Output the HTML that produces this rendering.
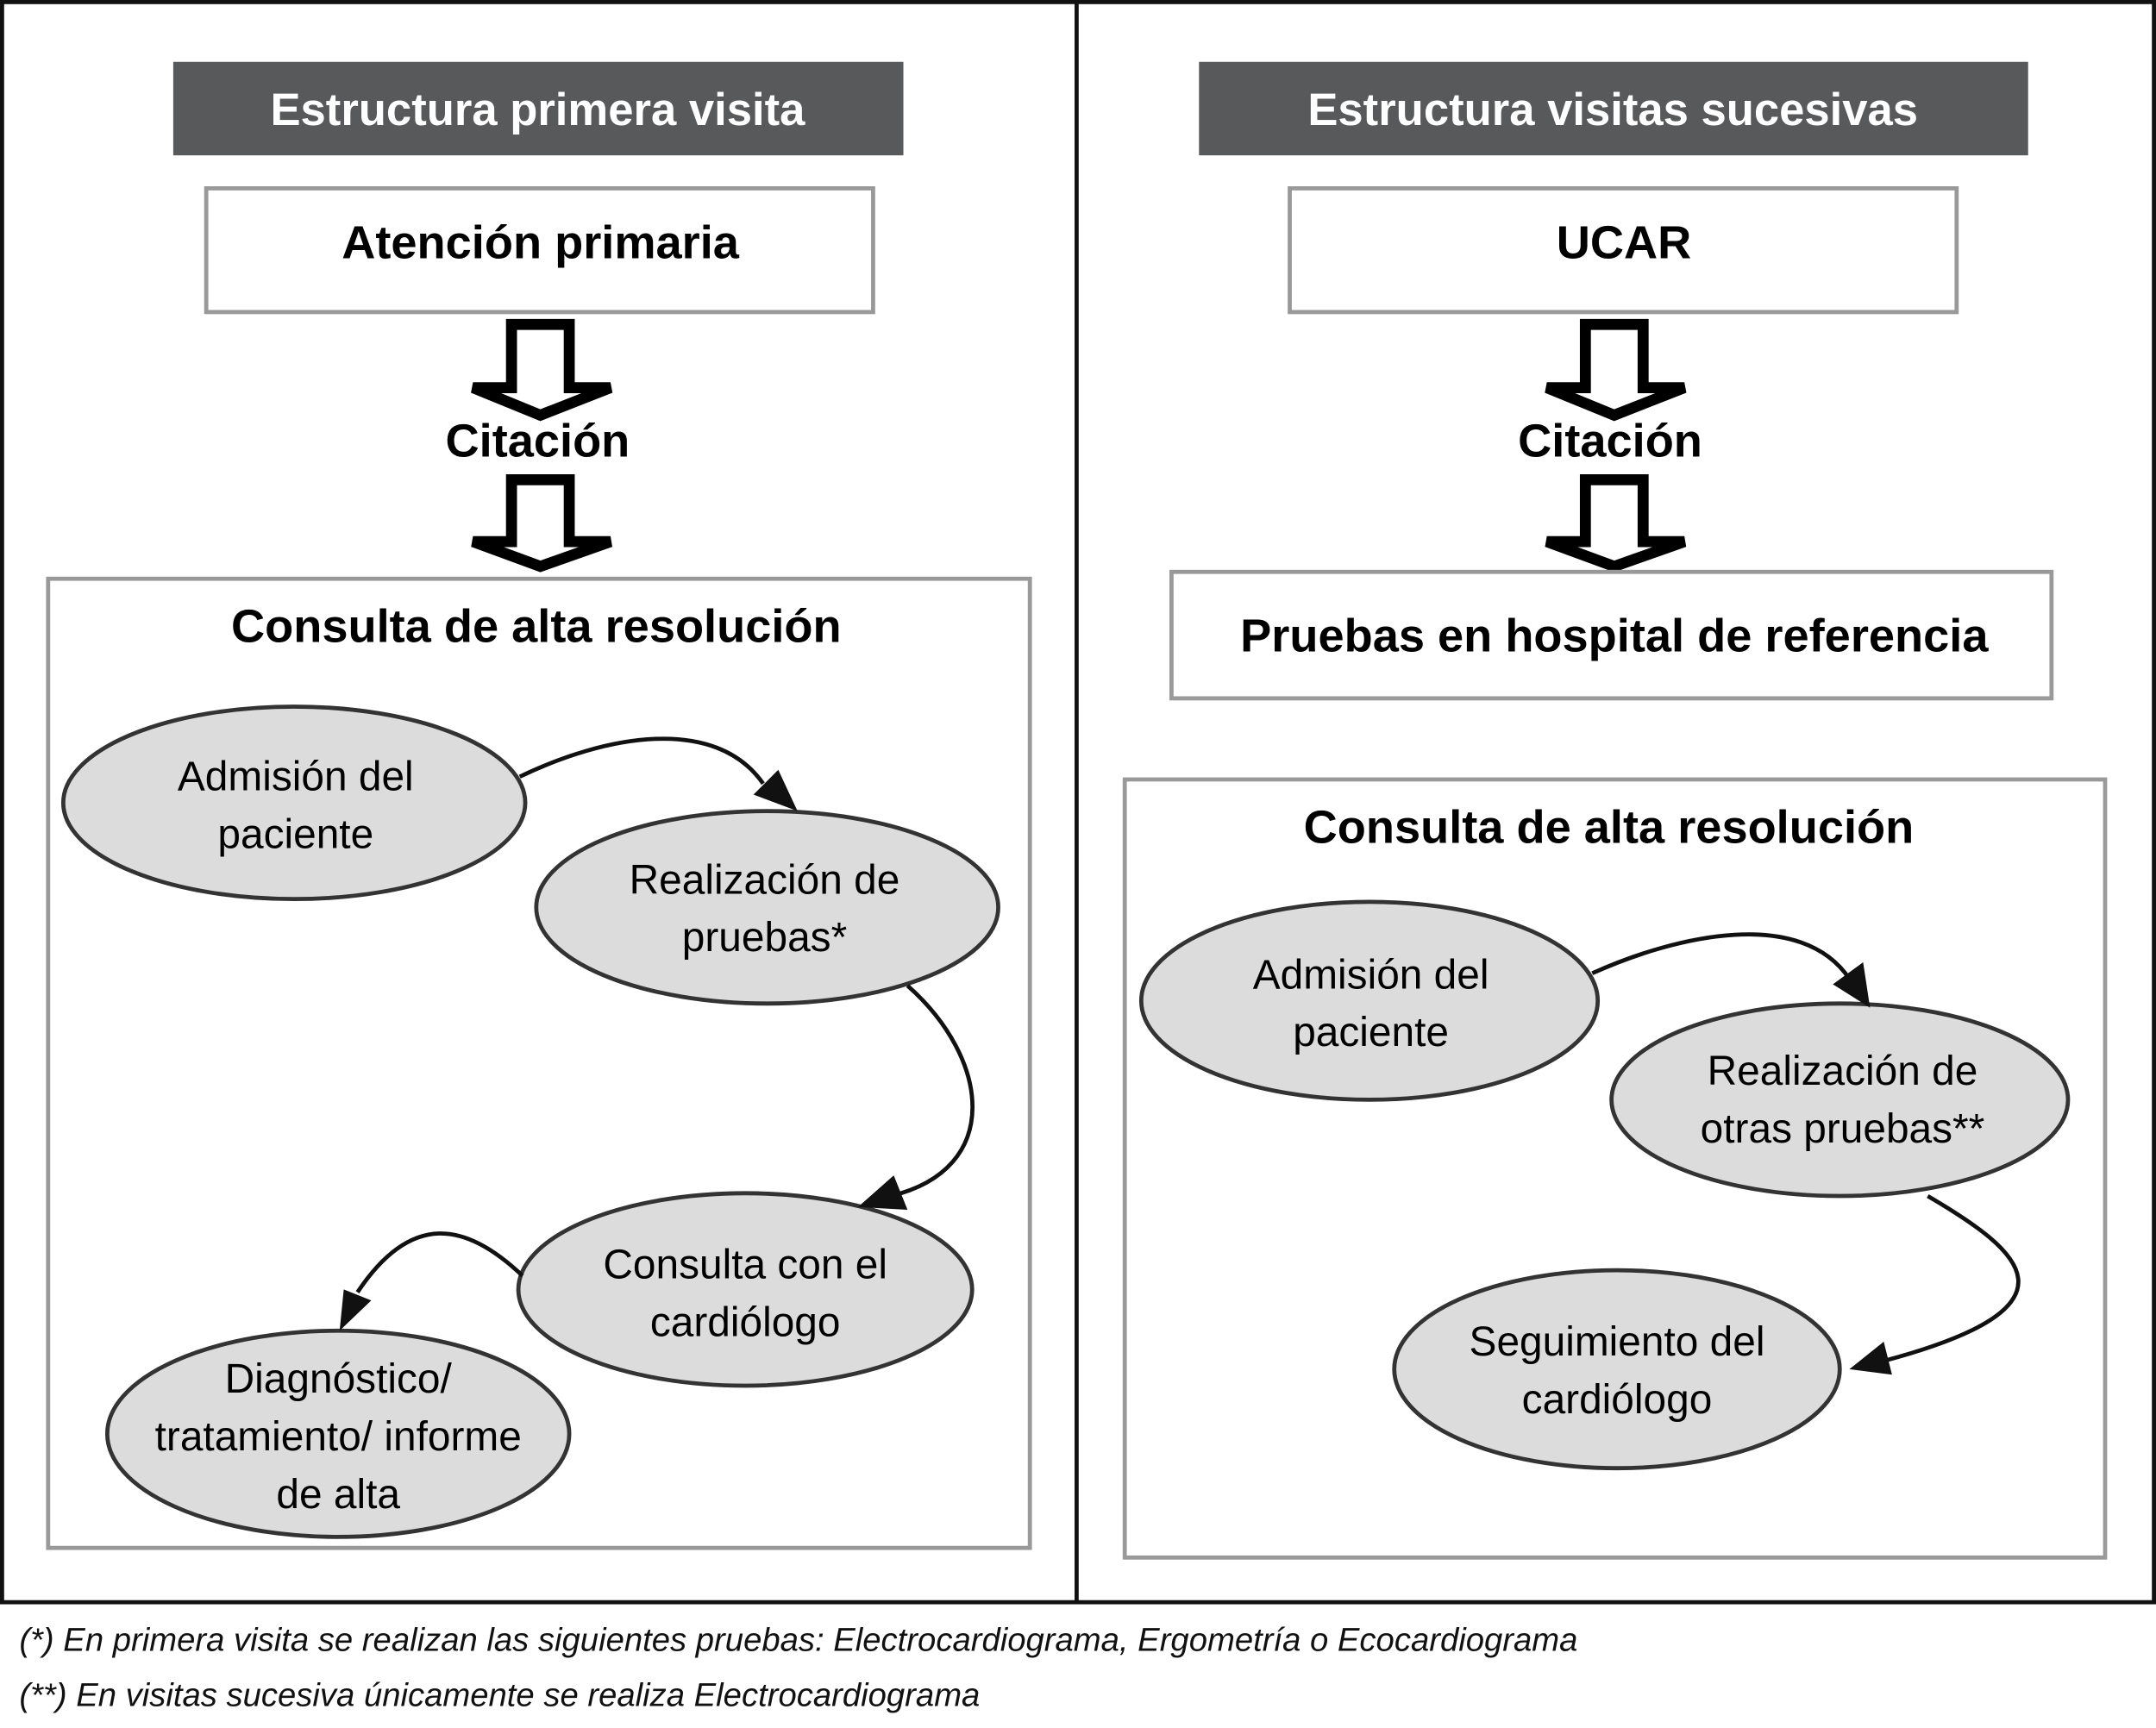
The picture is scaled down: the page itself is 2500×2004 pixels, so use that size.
<!DOCTYPE html>
<html><head><meta charset="utf-8"><style>
html,body{margin:0;padding:0;background:#fff}
svg{display:block}
text{font-family:"Liberation Sans",Arial,sans-serif}
</style></head><body>
<svg width="2500" height="2004" viewBox="0 0 1568 1257" preserveAspectRatio="none" xmlns="http://www.w3.org/2000/svg">
<defs>
<marker id="ah" viewBox="0 0 10 10" refX="9" refY="5" markerWidth="9" markerHeight="9" markerUnits="userSpaceOnUse" orient="auto">
</marker>
</defs>
<rect x="1.5" y="1.5" width="1565" height="1164" fill="none" stroke="#111" stroke-width="3"/>
<line x1="783" y1="0" x2="783" y2="1166" stroke="#111" stroke-width="3"/>

<!-- headers -->
<rect x="126" y="45" width="531" height="68" fill="#58595b"/>
<text x="391" y="91" font-size="33" font-weight="bold" fill="#fff" text-anchor="middle">Estructura primera visita</text>
<rect x="872" y="45" width="603" height="68" fill="#58595b"/>
<text x="1173" y="91" font-size="33" font-weight="bold" fill="#fff" text-anchor="middle">Estructura visitas sucesivas</text>

<rect x="150" y="137" width="485" height="90" fill="#fff" stroke="#999" stroke-width="3"/>
<text x="393" y="188" font-size="34" font-weight="bold" text-anchor="middle">Atención primaria</text>
<rect x="938" y="137" width="485" height="90" fill="#fff" stroke="#999" stroke-width="3"/>
<text x="1181" y="188" font-size="34" font-weight="bold" text-anchor="middle">UCAR</text>

<!-- hollow arrows -->
<g fill="#fff" stroke="#000" stroke-width="8" stroke-linejoin="miter">
<path d="M372,236 L414,236 L414,282 L444,282 L393,302 L344,282 L372,282 Z"/>
<path d="M372,349 L414,349 L414,394 L444,394 L393,412 L344,394 L372,394 Z"/>
<path d="M1153,236 L1195,236 L1195,282 L1225,282 L1174,302 L1125,282 L1153,282 Z"/>
<path d="M1153,349 L1195,349 L1195,394 L1225,394 L1174,412 L1125,394 L1153,394 Z"/>
</g>
<text x="391" y="332" font-size="34" font-weight="bold" text-anchor="middle">Citación</text>
<text x="1171" y="332" font-size="34" font-weight="bold" text-anchor="middle">Citación</text>

<!-- left box -->
<rect x="35" y="421" width="714" height="705" fill="#fff" stroke="#999" stroke-width="3"/>
<text x="390" y="467" font-size="34" font-weight="bold" text-anchor="middle">Consulta de alta resolución</text>

<g fill="#dcdcdc" stroke="#333" stroke-width="3">
<ellipse cx="214" cy="584" rx="168" ry="70"/>
<ellipse cx="558" cy="660" rx="168" ry="70"/>
<ellipse cx="542" cy="938" rx="165" ry="70"/>
<ellipse cx="246" cy="1043" rx="168" ry="75"/>
</g>
<g font-size="30" text-anchor="middle">
<text x="215" y="575">Admisión del</text><text x="215" y="617">paciente</text>
<text x="556" y="650">Realización de</text><text x="556" y="692">pruebas*</text>
<text x="542" y="930">Consulta con el</text><text x="542" y="972">cardiólogo</text>
<text x="246" y="1013">Diagnóstico/</text><text x="246" y="1055">tratamiento/ informe</text><text x="246" y="1097">de alta</text>
</g>

<!-- right -->
<rect x="852" y="416" width="640" height="92" fill="#fff" stroke="#999" stroke-width="3"/>
<text x="1174" y="474" font-size="34" font-weight="bold" text-anchor="middle">Pruebas en hospital de referencia</text>
<rect x="818" y="567" width="713" height="566" fill="#fff" stroke="#999" stroke-width="3"/>
<text x="1170" y="613" font-size="34" font-weight="bold" text-anchor="middle">Consulta de alta resolución</text>
<g fill="#dcdcdc" stroke="#333" stroke-width="3">
<ellipse cx="996" cy="728" rx="166" ry="72"/>
<ellipse cx="1338" cy="800" rx="166" ry="70"/>
<ellipse cx="1176" cy="996" rx="162" ry="72"/>
</g>
<g font-size="30" text-anchor="middle">
<text x="997" y="719">Admisión del</text><text x="997" y="761">paciente</text>
<text x="1340" y="789">Realización de</text><text x="1340" y="831">otras pruebas**</text>
<text x="1176" y="986">Seguimiento del</text><text x="1176" y="1028">cardiólogo</text>
</g>

<!-- connectors -->
<g fill="none" stroke="#111" stroke-width="3">
<path d="M378,565 C440,535 520,520 555,570"/>
<path d="M660,717 C720,770 730,850 648,870"/>
<path d="M380,928 C340,890 300,880 260,940"/>
<path d="M1158,708 C1220,680 1310,660 1345,712"/>
<path d="M1402,870 C1470,910 1520,950 1370,990"/>
</g>
<g fill="#111">
<polygon points="580,590 548,578 566,560"/>
<polygon points="624,878 650,855 660,880"/>
<polygon points="247,968 250,938 270,946"/>
<polygon points="1360,733 1333,716 1355,700"/>
<polygon points="1345,996 1370,976 1376,1000"/>
</g>

<g font-size="24" font-style="italic" fill="#111">
<text x="14" y="1201">(*) En primera visita se realizan las siguientes pruebas: Electrocardiograma, Ergometría o Ecocardiograma</text>
<text x="14" y="1241">(**) En visitas sucesiva únicamente se realiza Electrocardiograma</text>
</g>
</svg>
</body></html>
